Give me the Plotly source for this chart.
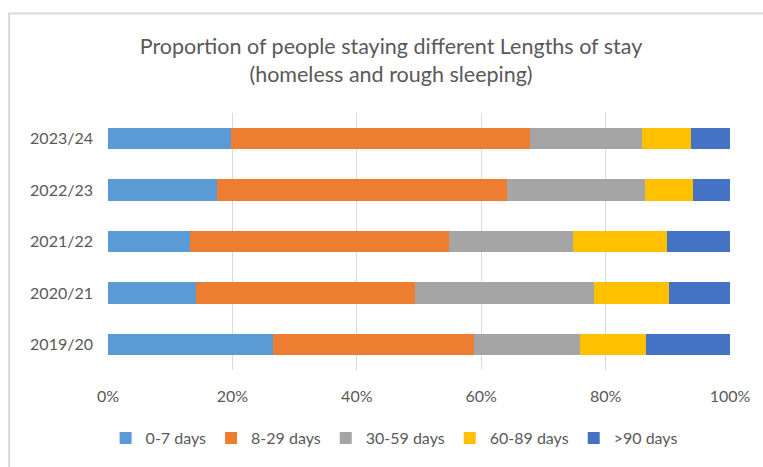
import plotly.graph_objects as go

years = ["2019/20", "2020/21", "2021/22", "2022/23", "2023/24"]
series_names = ["0-7 days", "8-29 days", "30-59 days", "60-89 days", ">90 days"]
d_0_7 = [26.6, 14.2, 13.2, 17.6, 19.8]
d_8_29 = [32.2, 35.1, 41.7, 46.5, 48.1]
d_30_59 = [17.1, 28.9, 19.9, 22.3, 17.9]
d_60_89 = [10.6, 12.0, 15.1, 7.6, 8.0]
d_90p = [13.5, 9.8, 10.1, 6.0, 6.2]
colors = ["#5B9BD5", "#ED7D31", "#A5A5A5", "#FFC000", "#4472C4"]
x_ticks = [0, 20, 40, 60, 80, 100]
x_tick_labels = ["0%", "20%", "40%", "60%", "80%", "100%"]

fig = go.Figure()
for name, vals, c in zip(series_names, [d_0_7, d_8_29, d_30_59, d_60_89, d_90p], colors):
    fig.add_trace(go.Bar(y=years, x=vals, name=name, orientation="h",
                         marker=dict(color=c, line=dict(width=0))))

fig.update_layout(
    barmode="stack",
    bargap=0.58,
    width=763, height=467,
    margin=dict(l=108, r=33, t=113, b=93),
    paper_bgcolor="white", plot_bgcolor="white",
    font=dict(family="Lato, Open Sans, sans-serif", color="#595959", size=15),
    title=dict(text="Proportion of people staying different Lengths of stay<br>(homeless and rough sleeping)",
               x=0.455, xref="paper", xanchor="center", y=0.885, yref="container", yanchor="middle",
               font=dict(size=21.5, color="#595959")),
    xaxis=dict(range=[0, 100], tickvals=x_ticks, ticktext=x_tick_labels,
               showgrid=True, gridcolor="#D9D9D9", gridwidth=1, zeroline=False,
               showline=False, ticks="", ticklabelstandoff=15,
               tickfont=dict(size=16, color="#595959")),
    yaxis=dict(categoryorder="array", categoryarray=years, showgrid=False,
               showline=False, ticks="", ticklabelstandoff=14,
               tickfont=dict(size=16, color="#595959")),
    legend=dict(orientation="h", x=0.46, xanchor="center", y=-0.265, yanchor="middle",
                font=dict(size=16, color="#595959"), traceorder="normal",
                itemwidth=30),
    showlegend=True,
)
fig.add_shape(type="rect", xref="paper", yref="paper",
              x0=-0.159, x1=1.2, y0=-0.6, y1=1.387,
              line=dict(color="#D9D9D9", width=2), layer="below")

fig.write_html("out.html")
